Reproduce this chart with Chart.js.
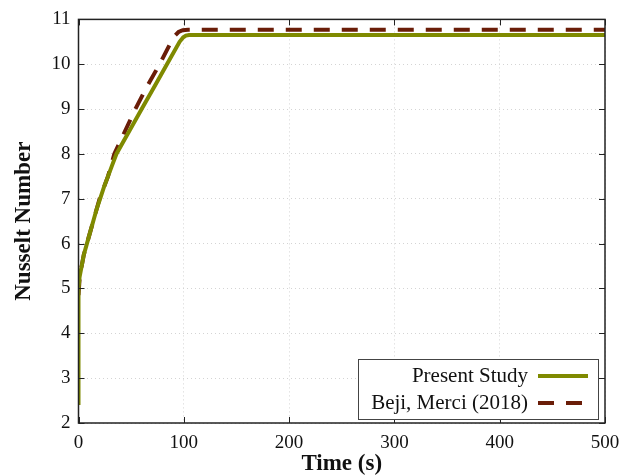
<!DOCTYPE html>
<html>
<head>
<meta charset="utf-8">
<script src="https://cdn.jsdelivr.net/npm/chart.js@4/dist/chart.umd.min.js"></script>
<style>
  html, body { margin: 0; padding: 0; background: #fff; }
  #wrap { width: 622px; height: 476px; }
</style>
</head>
<body>
<div id="wrap"><canvas id="myChart" width="622" height="476"></canvas></div>
<script>
// time (s) and Nusselt number, present study
const presentTime = [0, 0, 1, 3, 5, 8, 11, 14, 17, 20.5, 24, 28, 32, 36, 48, 60, 72, 84, 96, 99.5, 102, 105, 500];
const presentNu   = [2.4, 5.0, 5.25, 5.5, 5.75, 6.0, 6.25, 6.5, 6.75, 7.0, 7.25, 7.5, 7.75, 8.0, 8.5, 9.0, 9.5, 10.0, 10.5, 10.6, 10.64, 10.65, 10.65];

// Beji, Merci (2018)
const bejiTime = [0, 1, 3, 5, 8, 11, 14, 17, 20, 24, 28, 34, 44, 54, 65, 77, 88, 92, 95, 99, 104, 500];
const bejiNu   = [4.85, 5.2, 5.5, 5.75, 6.0, 6.25, 6.5, 6.75, 7.0, 7.25, 7.5, 8.0, 8.5, 9.0, 9.5, 10.0, 10.5, 10.65, 10.72, 10.76, 10.77, 10.77];

const xTicks = [0, 100, 200, 300, 400, 500];
const yTicks = [2, 3, 4, 5, 6, 7, 8, 9, 10, 11];

const serif = "'Liberation Serif', 'DejaVu Serif', serif";

function zip(xs, ys) {
  return xs.map((x, i) => ({ x: x, y: ys[i] }));
}

// box around the plot, inward ticks and the legend in the lower right
const framePlugin = {
  id: 'frame',
  afterDraw(chart) {
    const ctx = chart.ctx;
    const a = chart.chartArea;
    const xs = chart.scales.x;
    const ys = chart.scales.y;
    ctx.save();
    ctx.strokeStyle = '#222';
    ctx.lineWidth = 1.5;
    ctx.strokeRect(a.left, a.top, a.right - a.left, a.bottom - a.top);
    ctx.lineWidth = 1;
    ctx.beginPath();
    xTicks.forEach(v => {
      const px = Math.round(xs.getPixelForValue(v)) + 0.5;
      ctx.moveTo(px, a.bottom); ctx.lineTo(px, a.bottom - 6);
      ctx.moveTo(px, a.top); ctx.lineTo(px, a.top + 6);
    });
    yTicks.forEach(v => {
      const py = Math.round(ys.getPixelForValue(v)) + 0.5;
      ctx.moveTo(a.left, py); ctx.lineTo(a.left + 6, py);
      ctx.moveTo(a.right, py); ctx.lineTo(a.right - 6, py);
    });
    ctx.stroke();

    // legend
    const w = 240, h = 60;
    const bx = a.right - 7 - w, by = a.bottom - 4 - h;
    ctx.fillStyle = '#fff';
    ctx.fillRect(bx, by, w, h);
    ctx.strokeStyle = '#444';
    ctx.lineWidth = 1;
    ctx.strokeRect(bx + 0.5, by + 0.5, w, h);
    ctx.font = '21px ' + serif;
    ctx.textAlign = 'right';
    ctx.textBaseline = 'middle';
    chart.data.datasets.forEach((ds, i) => {
      const cy = by + 17 + i * 27;
      ctx.fillStyle = '#111';
      ctx.fillText(ds.label, bx + 170, cy);
      ctx.strokeStyle = ds.borderColor;
      ctx.lineWidth = ds.borderWidth;
      ctx.setLineDash(ds.borderDash || []);
      ctx.beginPath();
      ctx.moveTo(bx + 180, cy);
      ctx.lineTo(bx + 230, cy);
      ctx.stroke();
      ctx.setLineDash([]);
    });
    ctx.restore();
  }
};

const ctx = document.getElementById('myChart').getContext('2d');
const myChart = new Chart(ctx, {
  type: 'line',
  data: {
    datasets: [{
      label: 'Present Study',
      data: zip(presentTime, presentNu),
      borderColor: '#7f8a00',
      borderWidth: 4,
      pointRadius: 0,
      tension: 0,
      fill: false
    },
    {
      label: 'Beji, Merci (2018)',
      data: zip(bejiTime, bejiNu),
      borderColor: '#6a1d08',
      borderWidth: 4,
      borderDash: [16, 12],
      pointRadius: 0,
      tension: 0,
      fill: false
    }]
  },
  options: {
    responsive: false,
    animation: false,
    layout: { padding: { left: 10, top: 19, right: 0, bottom: 0 } },
    plugins: {
      legend: { display: false },
      tooltip: { enabled: false }
    },
    scales: {
      x: {
        type: 'linear',
        min: 0,
        max: 500,
        afterBuildTicks: s => { s.ticks = xTicks.map(v => ({ value: v })); },
        afterFit: s => { s.height = 53; s.paddingRight = 17; },
        grid: { color: '#d4d4d4', lineWidth: 1, drawTicks: false },
        border: { display: false, dash: [1, 3] },
        ticks: { color: '#111', padding: 9, font: { family: serif, size: 19 } },
        title: {
          display: true,
          text: 'Time (s)',
          color: '#111',
          padding: { top: 4, bottom: 0 },
          font: { family: serif, size: 23, weight: 'bold', lineHeight: 1.0 }
        }
      },
      y: {
        min: 2,
        max: 11,
        afterBuildTicks: s => { s.ticks = yTicks.map(v => ({ value: v })); },
        afterFit: s => { s.width = 68.5; },
        grid: { color: '#d4d4d4', lineWidth: 1, drawTicks: false },
        border: { display: false, dash: [1, 3] },
        ticks: { color: '#111', padding: 8, font: { family: serif, size: 19 } },
        title: {
          display: true,
          text: 'Nusselt Number',
          color: '#111',
          padding: { top: 0, bottom: 4 },
          font: { family: serif, size: 23, weight: 'bold' }
        }
      }
    }
  },
  plugins: [framePlugin]
});
</script>
</body>
</html>
